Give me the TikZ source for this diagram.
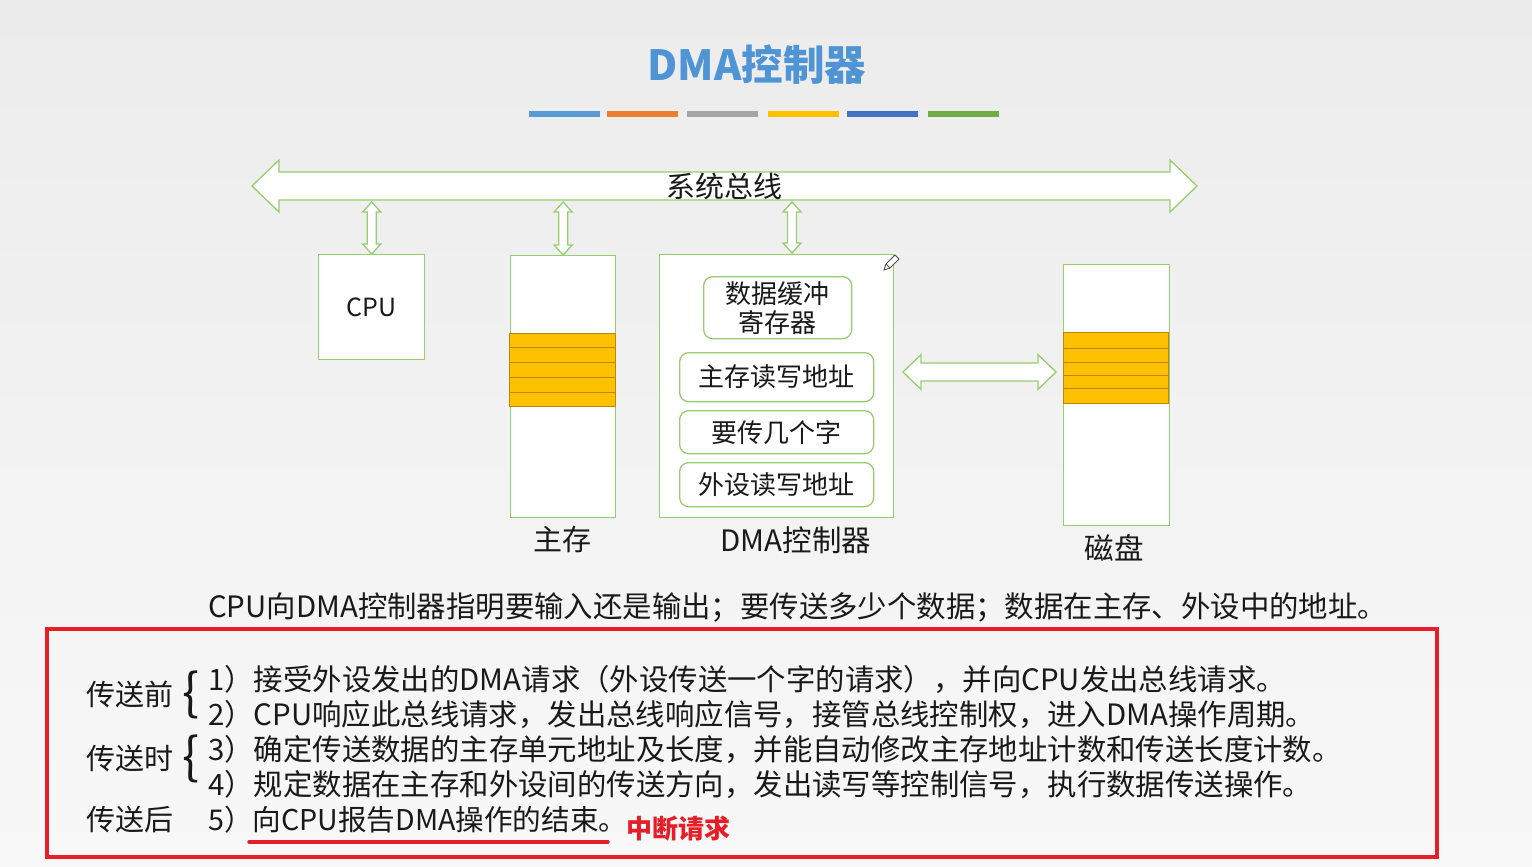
\documentclass[tikz,border=0pt]{standalone}
\usepackage{fontspec}
\setmainfont{Noto Sans CJK SC}
\usetikzlibrary{calc}
\definecolor{bgtop}{RGB}{236,236,236}
\definecolor{bgbot}{RGB}{248,248,248}
\definecolor{grn}{RGB}{150,205,110}
\definecolor{stripe}{RGB}{255,192,0}
\definecolor{stripeln}{RGB}{185,135,20}
\definecolor{ttl}{RGB}{79,148,212}
\definecolor{redbox}{RGB}{230,30,40}
\definecolor{txt}{RGB}{25,25,25}
\definecolor{cA}{RGB}{91,155,213}
\definecolor{cB}{RGB}{237,125,49}
\definecolor{cC}{RGB}{165,165,165}
\definecolor{cD}{RGB}{255,192,0}
\definecolor{cE}{RGB}{68,114,196}
\definecolor{cF}{RGB}{112,173,71}
\newcommand{\fs}[1]{\fontsize{#1}{#1}\selectfont}
\newcommand{\harr}[5]{%
  \draw[arrowst] let \p1=(#1), \p2=(#2) in
   (\x1,\y1) -- (\x1+#5,\y1+#4) -- (\x1+#5,\y1+#3) -- (\x2-#5,\y1+#3) -- (\x2-#5,\y1+#4)
   -- (\x2,\y1) -- (\x2-#5,\y1-#4) -- (\x2-#5,\y1-#3) -- (\x1+#5,\y1-#3) -- (\x1+#5,\y1-#4) -- cycle;}
\newcommand{\varr}[2]{%
  \draw[arrowst] let \p1=(#1), \p2=(#2) in
   (\x1,\y1) -- (\x1+9pt,\y1-10pt) -- (\x1+4.5pt,\y1-10pt) -- (\x1+4.5pt,\y2+10pt) -- (\x1+9pt,\y2+10pt)
   -- (\x1,\y2) -- (\x1-9pt,\y2+10pt) -- (\x1-4.5pt,\y2+10pt) -- (\x1-4.5pt,\y1-10pt) -- (\x1-9pt,\y1-10pt) -- cycle;}
\tikzset{
  arrowst/.style={draw=grn, fill=white, line width=1.3pt, line join=miter},
  box/.style={draw=grn, fill=white, line width=1.3pt, anchor=north west, inner sep=0pt},
  reg/.style={draw=grn, fill=white, line width=1.3pt, rounded corners=9pt, anchor=north west,
     inner sep=0pt, align=center, font=\fs{26}, text=txt},
  lbl/.style={font=\fs{29}, text=txt, inner sep=0pt},
  line/.style={font=\fs{29.4}, text=txt, inner sep=0pt, anchor=west},
  strp/.style={fill=stripe, draw=stripeln, line width=0.8pt},
  brc/.style={text=txt, inner sep=0pt, font=\fs{50}},
}
\begin{document}
\begin{tikzpicture}[x=1pt,y=-1pt]
\shade[top color=bgtop, bottom color=bgbot] (0,0) rectangle (1532,867);
\useasboundingbox (0,0) rectangle (1532,867);
% title
\node[font=\fs{41.5}\bfseries, text=ttl, inner sep=0pt] (title) at (757,65) {DMA控制器};
\foreach \x/\c in {529/cA,607/cB,687/cC,768/cD,847/cE,928/cF}
  \fill[\c] (\x,111) rectangle ++(71,6);
% system bus
\coordinate (busL) at (252,186);
\coordinate (busR) at (1197,186);
\harr{busL}{busR}{14pt}{26pt}{27pt}
\node[lbl] (bus) at (724,186) {系统总线};
\coordinate (busB) at (724,202);
% boxes
\node[box, minimum width=106pt, minimum height=105pt, font=\fs{25}, text=txt] (cpu) at (318,254) {CPU};
\node[box, minimum width=105pt, minimum height=262pt] (mem) at (510,255) {};
\node[box, minimum width=234pt, minimum height=263pt] (dma) at (659,254) {};
\node[box, minimum width=106pt, minimum height=261pt] (disk) at (1063,264) {};
% stripes
\foreach \a/\b in {333/347,347/362,362/377,377/392,392/406}
  \draw[strp] (509,\a) rectangle (615,\b);
\foreach \a/\b in {332/348,348/362,362/375,375/388,388/403}
  \draw[strp] (1063.6,\a) rectangle (1168.4,\b);
% registers
\node[reg, minimum width=148pt, minimum height=62pt, font=\fontsize{26}{29}\selectfont] (r1) at (703,276) {数据缓冲\\寄存器};
\node[reg, minimum width=194pt, minimum height=49pt] (r2) at (679,352) {主存读写地址};
\node[reg, minimum width=194pt, minimum height=43pt] (r3) at (679,410) {要传几个字};
\node[reg, minimum width=194pt, minimum height=44pt] (r4) at (679,462) {外设读写地址};
% pencil
\draw[gray!60!black, line width=0.9pt, fill=white] (884,270) -- (886,264) -- (895,255) -- (899,259) -- (890,268) -- cycle;
\draw[gray!60!black, line width=0.9pt] (886,264) -- (890,268);
% vertical arrows
\varr{cpu.north |- busB}{cpu.north}
\varr{mem.north |- busB}{mem.north}
\varr{busB -| 792,0}{792,253}
% horizontal arrow
\coordinate (ha1) at (903,372);
\coordinate (ha2) at (1056,372);
\harr{ha1}{ha2}{9pt}{17.5pt}{18pt}
% labels
\node[lbl] (memlbl) at (562,539) {主存};
\node[lbl, font=\fs{29.5}] (dmalbl) at (796,540) {DMA控制器};
\node[lbl, font=\fs{29.5}] (disklbl) at (1114,548) {磁盘};
% sentence
\node[line] (sent) at (208,607) {CPU向DMA控制器指明要输入还是输出；要传送多少个数据；数据在主存、外设中的地址。};
% red box
\draw[redbox, line width=3.5pt] (47,629) rectangle (1437,857);
\node[line, font=\fs{29}] (p1) at (86,694) {传送前};
\node[line, font=\fs{29}] (p2) at (86,758) {传送时};
\node[line, font=\fs{29}] (p3) at (86,820) {传送后};
\node[brc] (b1) at (191,695) {\{};
\node[brc] (b2) at (191,759) {\{};
\node[line] (l1) at (208,679) {1）接受外设发出的DMA请求（外设传送一个字的请求），并向CPU发出总线请求。};
\node[line] (l2) at (208,714) {2）CPU响应此总线请求，发出总线响应信号，接管总线控制权，进入DMA操作周期。};
\node[line] (l3) at (208,749) {3）确定传送数据的主存单元地址及长度，并能自动修改主存地址计数和传送长度计数。};
\node[line] (l4) at (208,784) {4）规定数据在主存和外设间的传送方向，发出读写等控制信号，执行数据传送操作。};
\node[line, font=\fs{28.6}] (l5) at (208,820) {5）向CPU报告DMA操作的结束。};
\draw[redbox, line width=3.5pt, line cap=round] (249,842) -- (608,842);
\node[line, text=redbox, font=\fs{26}\bfseries] (intr) at (626,829) {中断请求};
\end{tikzpicture}
\end{document}
